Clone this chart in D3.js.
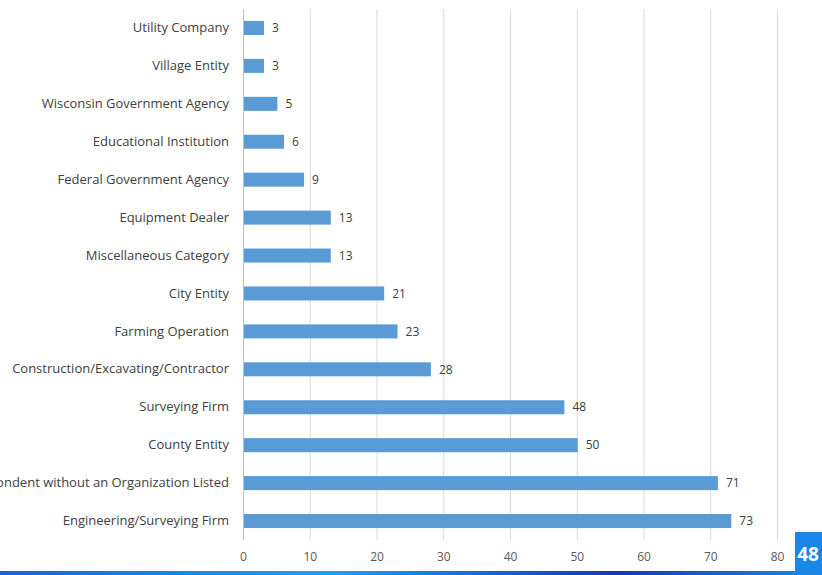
<!DOCTYPE html>
<html lang="en">
<head>
    <meta charset="UTF-8">
    <title>Respondents by Organization Type</title>
    <script src="https://d3js.org/d3.v7.min.js"></script>
    <style>
        body {
            margin: 0;
            padding: 0;
            background-color: #fff;
            font-family: "Open Sans", Arial, sans-serif;
        }
        svg {
            display: block;
        }
    </style>
</head>
<body>
    <svg id="chart" width="822" height="575"></svg>
    <script>
        // categories top to bottom, as they appear on the slide
        const categories = [
            "Utility Company",
            "Village Entity",
            "Wisconsin Government Agency",
            "Educational Institution",
            "Federal Government Agency",
            "Equipment Dealer",
            "Miscellaneous Category",
            "City Entity",
            "Farming Operation",
            "Construction/Excavating/Contractor",
            "Surveying Firm",
            "County Entity",
            "Respondent without an Organization Listed",
            "Engineering/Surveying Firm"
        ];
        const counts = [3, 3, 5, 6, 9, 13, 13, 21, 23, 28, 48, 50, 71, 73];
        const xTicks = [0, 10, 20, 30, 40, 50, 60, 70, 80];
        const slideNumber = "48";

        const data = categories.map((c, i) => ({ name: c, value: counts[i] }));

        const svg = d3.select("#chart");
        const margin = { top: 9, right: 45, bottom: 35, left: 243 };
        const width = 822;
        const font = "'Open Sans', Arial, sans-serif";

        const x = d3.scaleLinear()
            .domain([0, 80])
            .range([margin.left, 777]);

        const y = d3.scaleBand()
            .domain(categories)
            .range([margin.top, 540])
            .paddingInner(0.63)
            .paddingOuter(0.315);

        // gridlines
        svg.append("g")
            .selectAll("line")
            .data(xTicks)
            .join("line")
            .attr("x1", d => x(d) + 0.5)
            .attr("x2", d => x(d) + 0.5)
            .attr("y1", margin.top)
            .attr("y2", 540)
            .attr("stroke", d => d === 0 ? "#bfbfbf" : "#d9d9d9")
            .attr("stroke-width", 1);

        // x axis labels
        const xAxis = svg.append("g")
            .attr("transform", "translate(0,552)")
            .call(d3.axisBottom(x).tickValues(xTicks).tickSize(0).tickPadding(0));
        xAxis.select(".domain").remove();
        xAxis.selectAll("text")
            .attr("dy", "0.71em")
            .style("font-family", font)
            .style("font-size", "12px")
            .attr("fill", "#595959");

        // y axis labels (the long one runs off the left edge, as on the slide)
        const yAxis = svg.append("g")
            .attr("transform", `translate(${margin.left},0)`)
            .call(d3.axisLeft(y).tickSize(0).tickPadding(14));
        yAxis.select(".domain").remove();
        yAxis.selectAll("text")
            .style("font-family", font)
            .style("font-size", "13px")
            .attr("fill", "#404040");

        // bars
        svg.append("g")
            .selectAll("rect")
            .data(data)
            .join("rect")
            .attr("x", x(0) + 1)
            .attr("y", d => y(d.name))
            .attr("width", d => x(d.value) - x(0))
            .attr("height", y.bandwidth())
            .attr("fill", "#5b9bd5");

        // value labels
        svg.append("g")
            .selectAll("text")
            .data(data)
            .join("text")
            .attr("x", d => x(d.value) + 9)
            .attr("y", d => y(d.name) + y.bandwidth() / 2)
            .attr("dy", "0.35em")
            .style("font-family", font)
            .style("font-size", "12px")
            .attr("fill", "#404040")
            .text(d => d.value);

        // slide footer: blue band and page number box
        const grad = svg.append("defs").append("linearGradient")
            .attr("id", "band")
            .attr("x1", "0%").attr("x2", "100%");
        grad.append("stop").attr("offset", "0%").attr("stop-color", "#1565d8");
        grad.append("stop").attr("offset", "40%").attr("stop-color", "#1fa0f0");
        grad.append("stop").attr("offset", "75%").attr("stop-color", "#0b3fa8");
        grad.append("stop").attr("offset", "100%").attr("stop-color", "#1a8ae6");

        svg.append("rect")
            .attr("x", 0).attr("y", 571)
            .attr("width", width).attr("height", 4)
            .attr("fill", "url(#band)");

        svg.append("rect")
            .attr("x", 795).attr("y", 532)
            .attr("width", 27).attr("height", 43)
            .attr("fill", "#1a86e8");

        svg.append("text")
            .attr("x", 808)
            .attr("y", 561)
            .attr("text-anchor", "middle")
            .style("font-family", font)
            .style("font-size", "19px")
            .style("font-weight", "bold")
            .attr("fill", "#fff")
            .text(slideNumber);
    </script>
</body>
</html>
